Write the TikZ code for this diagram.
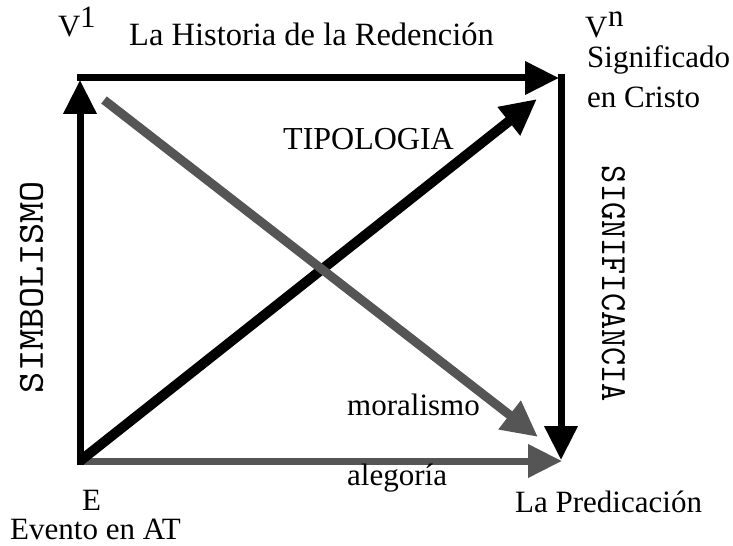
\documentclass[tikz,border=0pt]{standalone}
\usepackage{fontspec}
\usepackage{graphicx}
\setmainfont{Liberation Serif}
\usetikzlibrary{arrows.meta}
\definecolor{darkgr}{RGB}{85,85,85}
\begin{document}
\begin{tikzpicture}[x=1bp,y=-1bp,
  lbl/.style={inner sep=0pt, anchor=base west, font=\fontsize{31bp}{37bp}\selectfont},
  biglbl/.style={lbl, font=\fontsize{32.5bp}{38bp}\selectfont},
  vlbl/.style={inner sep=0pt},
  edgearrow/.style={line width=7bp, -{Triangle[width=32bp,length=34bp]}},
  diagarrow/.style={-{Triangle[width=34bp,length=36bp]}}
]
\useasboundingbox[fill=white] (0,0) rectangle (733,546);
% corners
\coordinate (Estart) at (80,464.5);
\coordinate (V1start) at (76.5,78);
\coordinate (Vnstart) at (561,74.5);
\coordinate (Ptip) at (561,460);
\coordinate (Vntip) at (559,78);
\coordinate (V1tip) at (80,80);
\coordinate (Bstart) at (80,461);
\coordinate (Btip) at (562,461);
\coordinate (Tstart) at (80,461);
\coordinate (Ttip) at (537,99);
\coordinate (Mstart) at (104,100);
\coordinate (Mtip) at (538,437);
% edges
\draw[edgearrow, color=darkgr] (Bstart) -- (Btip);
\draw[edgearrow] (Estart) -- (V1tip);
\draw[edgearrow] (V1start) -- (Vntip);
\draw[edgearrow] (Vnstart) -- (Ptip);
\draw[diagarrow, line width=10bp] (Tstart) -- (Ttip);
\draw[diagarrow, line width=9bp, color=darkgr] (Mstart) -- (Mtip);
% labels
\node[lbl] (v1) at (58,37) {V};
\node[lbl] (v1sup) at (80,28) {1};
\node[lbl] (vn) at (585,38) {V};
\node[lbl] (vnsup) at (608,27) {n};
\node[lbl] (sig) at (587,68) {Significado};
\node[lbl] (cri) at (587,108) {en Cristo};
\node[biglbl] (hist) at (129,46) {La Historia de la Redención};
\node[lbl, font=\fontsize{32bp}{38bp}\selectfont] (tipo) at (283,150) {TIPOLOGIA};
\node[lbl] (moral) at (347,415) {moralismo};
\node[lbl] (aleg) at (347,485) {alegoría};
\node[lbl] (elbl) at (82,510) {E};
\node[lbl] (evento) at (10,539) {Evento en AT};
\node[lbl] (pred) at (515,512) {La Predicación};
\node[vlbl, rotate=90] (simb) at (31.5,287) {\resizebox{212bp}{23bp}{\ttfamily SIMBOLISMO}};
\node[vlbl, rotate=-90] (signif) at (613.5,284) {\resizebox{236bp}{23bp}{\ttfamily SIGNIFICANCIA}};
\end{tikzpicture}
\end{document}
